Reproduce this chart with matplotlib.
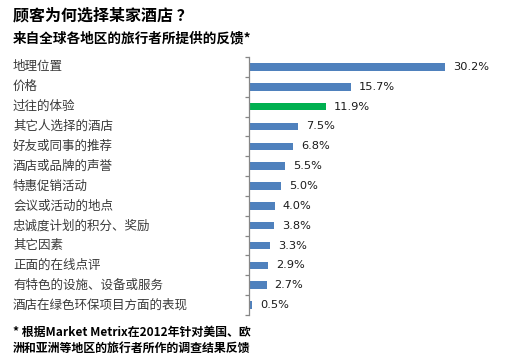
import matplotlib
matplotlib.use("Agg")
import matplotlib.pyplot as plt
import matplotlib.transforms as mtransforms

plt.rcParams['font.family'] = ['Noto Sans CJK SC', 'DejaVu Sans']

categories = ["地理位置", "价格", "过往的体验", "其它人选择的酒店", "好友或同事的推荐",
              "酒店或品牌的声誉", "特惠促销活动", "会议或活动的地点", "忠诚度计划的积分、奖励",
              "其它因素", "正面的在线点评", "有特色的设施、设备或服务", "酒店在绿色环保项目方面的表现"]
values = [30.2, 15.7, 11.9, 7.5, 6.8, 5.5, 5.0, 4.0, 3.8, 3.3, 2.9, 2.7, 0.5]
highlight = "过往的体验"
value_labels = [f"{v:.1f}%" for v in values]

W, H = 518, 359
fig = plt.figure(figsize=(W / 100, H / 100), dpi=100)
fig.patch.set_facecolor("white")

ax = fig.add_axes([249 / W, 1 - 315 / H, 227 / W, 258 / H])
ypos = list(range(len(categories)))
colors = ["#00B050" if c == highlight else "#4F81BD" for c in categories]
ax.barh(ypos, values, height=0.38, color=colors)
ax.set_ylim(len(categories) - 0.5, -0.5)
ax.set_xlim(0, 35)

for s in ["top", "right", "bottom"]:
    ax.spines[s].set_visible(False)
ax.spines["left"].set_color("#868686")
ax.spines["left"].set_linewidth(0.9)
ax.set_xticks([])
ax.set_yticks([i - 0.5 for i in range(len(categories) + 1)])
ax.set_yticklabels([])
ax.tick_params(axis="y", direction="out", length=3, color="#868686", width=0.9)

for y, v, lab in zip(ypos, values, value_labels):
    ax.annotate(lab, (v, y), xytext=(8, 0), textcoords="offset pixels",
                ha="left", va="center", fontsize=8.2, color="#1a1a1a",
                family=["DejaVu Sans"])

trans = mtransforms.blended_transform_factory(fig.transFigure, ax.transData)
for y, c in zip(ypos, categories):
    ax.text(13 / W, y, c, transform=trans, ha="left", va="center",
            fontsize=9, color="#3a3a3a")

fig.text(13 / W, 1 - 15 / H, "顾客为何选择某家酒店 ？", ha="left", va="center",
         fontsize=11.5, fontweight="bold", color="#000000")
fig.text(13 / W, 1 - 38 / H, "来自全球各地区的旅行者所提供的反馈*", ha="left", va="center",
         fontsize=9.8, fontweight="bold", color="#000000")
fig.text(13 / W, 1 - 332 / H, "* 根据Market Metrix在2012年针对美国、欧", ha="left", va="center",
         fontsize=8.6, fontweight="bold", color="#000000")
fig.text(13 / W, 1 - 348 / H, "洲和亚洲等地区的旅行者所作的调查结果反馈", ha="left", va="center",
         fontsize=8.6, fontweight="bold", color="#000000")

fig.savefig("out.png", dpi=100, facecolor="white")
